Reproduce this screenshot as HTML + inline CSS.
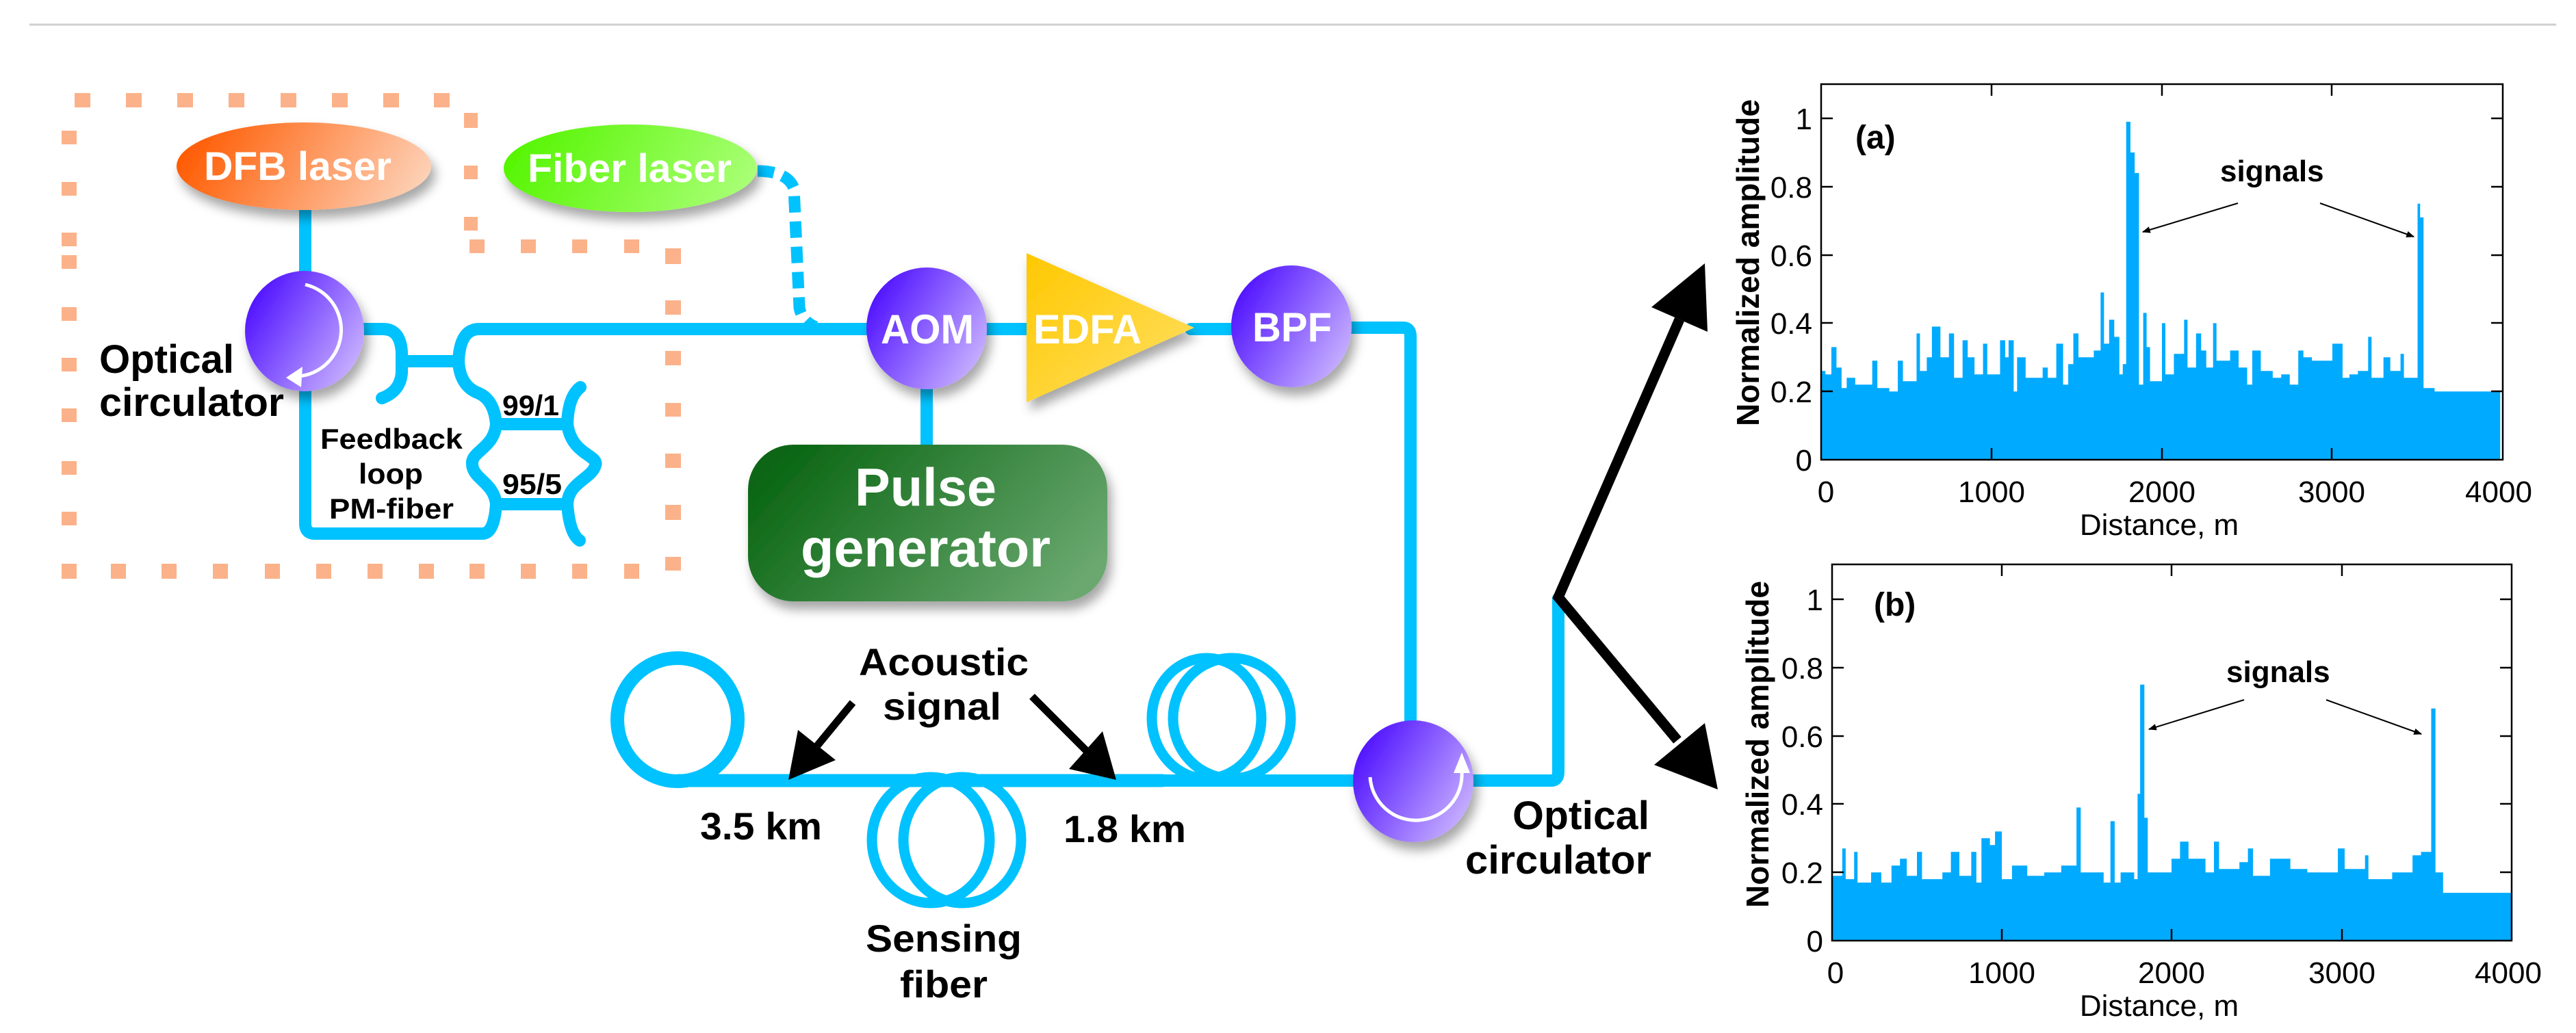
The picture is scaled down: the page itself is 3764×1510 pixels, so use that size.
<!DOCTYPE html>
<html><head><meta charset="utf-8"><style>
html,body{margin:0;padding:0;background:#fff;}
svg{display:block;}
.d{font-family:"Liberation Sans Narrow","Liberation Sans",sans-serif;font-weight:bold;}
.c{font-family:"Liberation Sans",sans-serif;}
</style></head><body>
<svg width="3764" height="1510" viewBox="0 0 3764 1510" xmlns="http://www.w3.org/2000/svg">
<defs>
<linearGradient id="pu" x1="0" y1="0.2" x2="1" y2="0.8"><stop offset="0" stop-color="#4a0aff"/><stop offset="1" stop-color="#cdb8ff"/></linearGradient>
<linearGradient id="dfb" x1="0" y1="0.4" x2="1" y2="0.6"><stop offset="0" stop-color="#ff5a00"/><stop offset="1" stop-color="#fdd2b8"/></linearGradient>
<linearGradient id="fl" x1="0" y1="0.4" x2="1" y2="0.6"><stop offset="0" stop-color="#55f500"/><stop offset="1" stop-color="#aaff77"/></linearGradient>
<linearGradient id="ed" x1="0" y1="0" x2="1" y2="1"><stop offset="0" stop-color="#ffc800"/><stop offset="1" stop-color="#ffe066"/></linearGradient>
<linearGradient id="pg" x1="0" y1="0.3" x2="1" y2="0.7"><stop offset="0" stop-color="#0a6612"/><stop offset="1" stop-color="#6aa870"/></linearGradient>
<filter id="sh" x="-20%" y="-20%" width="150%" height="150%"><feDropShadow dx="6" dy="12" stdDeviation="8" flood-color="#000" flood-opacity="0.35"/></filter>
<marker id="ah" viewBox="0 0 10 10" refX="9" refY="5" markerWidth="6" markerHeight="6" orient="auto"><path d="M0,1 L10,5 L0,9 Z" fill="#000"/></marker>
</defs>

<line x1="43" y1="36" x2="3735" y2="36" stroke="#cfcfcf" stroke-width="3"/>

<g fill="#fbb28a">
<rect x="109" y="136" width="23" height="21"/><rect x="184" y="136" width="23" height="21"/><rect x="259" y="136" width="23" height="21"/><rect x="334" y="136" width="23" height="21"/><rect x="410" y="136" width="23" height="21"/><rect x="485" y="136" width="23" height="21"/><rect x="560" y="136" width="23" height="21"/><rect x="634" y="136" width="23" height="21"/>
<rect x="90" y="191" width="22" height="20"/><rect x="90" y="266" width="22" height="20"/><rect x="90" y="340" width="22" height="20"/><rect x="90" y="373" width="22" height="20"/><rect x="90" y="449" width="22" height="20"/><rect x="90" y="523" width="22" height="20"/><rect x="90" y="597" width="22" height="20"/><rect x="90" y="674" width="22" height="20"/><rect x="90" y="748" width="22" height="20"/>
<rect x="90" y="824" width="22" height="22"/><rect x="162" y="824" width="22" height="22"/><rect x="236" y="824" width="22" height="22"/><rect x="311" y="824" width="22" height="22"/><rect x="387" y="824" width="22" height="22"/><rect x="462" y="824" width="22" height="22"/><rect x="537" y="824" width="22" height="22"/><rect x="612" y="824" width="22" height="22"/><rect x="686" y="824" width="22" height="22"/><rect x="761" y="824" width="22" height="22"/><rect x="836" y="824" width="22" height="22"/><rect x="912" y="824" width="22" height="22"/>
<rect x="972" y="814" width="23" height="20"/><rect x="972" y="738" width="23" height="22"/><rect x="972" y="663" width="23" height="21"/><rect x="972" y="589" width="23" height="20"/><rect x="972" y="513" width="23" height="21"/><rect x="972" y="439" width="23" height="21"/><rect x="972" y="363" width="23" height="23"/>
<rect x="686" y="350" width="22" height="20"/><rect x="761" y="350" width="22" height="20"/><rect x="836" y="350" width="22" height="20"/><rect x="912" y="350" width="22" height="20"/>
<rect x="678" y="165" width="20" height="22"/><rect x="678" y="242" width="20" height="20"/><rect x="678" y="317" width="20" height="20"/>
</g>

<g fill="none" stroke="#00c2ff" stroke-width="18" stroke-linecap="round" stroke-linejoin="round">
<line x1="446" y1="300" x2="446" y2="400"/>
<path d="M530,481 H560 Q585,481 587,515 V545 Q585,572 558,582"/>
<path d="M587,528 H670"/>
<path d="M670,528 Q672,481 700,481 H1270"/>
<path d="M670,528 Q672,565 700,575 Q722,585 725,620"/>
<path d="M725,620 H829"/>
<path d="M829,620 Q830,580 848,566"/>
<path d="M829,620 C835,665 875,665 870,680 C865,700 830,705 829,737"/>
<path d="M725,620 C722,655 688,660 690,678 C690,700 722,705 725,737"/>
<path d="M725,737 H829"/>
<path d="M829,737 Q832,780 847,790"/>
<path d="M725,737 Q722,780 705,780 H460 Q446,780 446,765 V560"/>
<path d="M1107,250 Q1150,250 1160,275 L1168,450 Q1172,470 1192,478" stroke-dasharray="24 13" stroke-linecap="butt" stroke-width="17"/>
<path d="M1440,481 H1500"/>
<path d="M1740,481 H1800"/>
<path d="M1970,479 H2050 Q2061,479 2061,492 V1060"/>
<line x1="1354" y1="560" x2="1354" y2="655"/>
<path d="M990,1141 H2000"/>
<path d="M2140,1141 H2266 Q2277,1141 2277,1128 V875"/>
</g>
<g fill="none" stroke="#00c2ff" stroke-width="20">
<ellipse cx="990" cy="1052" rx="88" ry="90"/>
</g>
<g fill="none" stroke="#00c2ff" stroke-width="15">
<ellipse cx="1763" cy="1050" rx="80" ry="88"/>
<ellipse cx="1800" cy="1050" rx="86" ry="88"/>
<ellipse cx="1360" cy="1228" rx="86" ry="92"/>
<ellipse cx="1406" cy="1228" rx="86" ry="92"/>
</g>
<line x1="990" y1="1141" x2="1700" y2="1141" stroke="#00c2ff" stroke-width="19"/>

<ellipse cx="444" cy="243" rx="186" ry="64" fill="url(#dfb)" filter="url(#sh)"/>
<text class="d" x="298" y="263" font-size="58" fill="#fff" textLength="274" lengthAdjust="spacingAndGlyphs">DFB laser</text>
<ellipse cx="921" cy="246" rx="185" ry="64" fill="url(#fl)" filter="url(#sh)"/>
<text class="d" x="771" y="266" font-size="58" fill="#fff" textLength="298" lengthAdjust="spacingAndGlyphs">Fiber laser</text>

<ellipse cx="445" cy="484" rx="87" ry="88" fill="url(#pu)" filter="url(#sh)"/>
<path d="M446,416 A68,68 0 0 1 436,550" fill="none" stroke="#fff" stroke-width="5"/>
<path d="M418,552 L442,536 L440,566 Z" fill="#fff"/>
<text class="d" x="145" y="545" font-size="58" textLength="197" lengthAdjust="spacingAndGlyphs">Optical</text>
<text class="d" x="145" y="608" font-size="58" textLength="270" lengthAdjust="spacingAndGlyphs">circulator</text>
<text class="d" x="468" y="656" font-size="42" textLength="208" lengthAdjust="spacingAndGlyphs">Feedback</text>
<text class="d" x="524" y="707" font-size="42" textLength="94" lengthAdjust="spacingAndGlyphs">loop</text>
<text class="d" x="481" y="758" font-size="42" textLength="182" lengthAdjust="spacingAndGlyphs">PM-fiber</text>
<text class="d" x="734" y="607" font-size="42" textLength="83" lengthAdjust="spacingAndGlyphs">99/1</text>
<text class="d" x="734" y="722" font-size="42" textLength="87" lengthAdjust="spacingAndGlyphs">95/5</text>

<ellipse cx="1354" cy="480" rx="88" ry="89" fill="url(#pu)" filter="url(#sh)"/>
<text class="d" x="1287" y="502" font-size="60" fill="#fff" textLength="136" lengthAdjust="spacingAndGlyphs">AOM</text>
<polygon points="1500,370 1500,588 1745,479" fill="url(#ed)" filter="url(#sh)"/>
<text class="d" x="1510" y="502" font-size="60" fill="#fff" textLength="158" lengthAdjust="spacingAndGlyphs">EDFA</text>
<ellipse cx="1887" cy="477" rx="88" ry="89" fill="url(#pu)" filter="url(#sh)"/>
<text class="d" x="1830" y="499" font-size="60" fill="#fff" textLength="116" lengthAdjust="spacingAndGlyphs">BPF</text>

<rect x="1093" y="650" width="525" height="229" rx="66" fill="url(#pg)" filter="url(#sh)"/>
<text class="d" x="1249" y="739" font-size="78" fill="#fff" textLength="207" lengthAdjust="spacingAndGlyphs">Pulse</text>
<text class="d" x="1170" y="828" font-size="78" fill="#fff" textLength="365" lengthAdjust="spacingAndGlyphs">generator</text>

<ellipse cx="2065" cy="1142" rx="88" ry="89" fill="url(#pu)" filter="url(#sh)"/>
<path d="M2002,1136 A67,67 0 0 0 2136,1128" fill="none" stroke="#fff" stroke-width="5"/>
<path d="M2136,1100 L2124,1130 L2148,1130 Z" fill="#fff"/>
<text class="d" x="2210" y="1212" font-size="58" textLength="200" lengthAdjust="spacingAndGlyphs">Optical</text>
<text class="d" x="2141" y="1277" font-size="58" textLength="272" lengthAdjust="spacingAndGlyphs">circulator</text>

<text class="d" x="1255" y="987" font-size="56" textLength="248" lengthAdjust="spacingAndGlyphs">Acoustic</text>
<text class="d" x="1290" y="1052" font-size="56" textLength="173" lengthAdjust="spacingAndGlyphs">signal</text>
<line x1="1246" y1="1027" x2="1190" y2="1095" stroke="#000" stroke-width="11"/>
<polygon points="1152,1140 1166,1067 1221,1111" fill="#000"/>
<line x1="1508" y1="1018" x2="1590" y2="1100" stroke="#000" stroke-width="11"/>
<polygon points="1631,1140 1611,1069 1562,1124" fill="#000"/>
<text class="d" x="1023" y="1227" font-size="56" textLength="178" lengthAdjust="spacingAndGlyphs">3.5 km</text>
<text class="d" x="1554" y="1231" font-size="56" textLength="179" lengthAdjust="spacingAndGlyphs">1.8 km</text>
<text class="d" x="1265" y="1391" font-size="56" textLength="228" lengthAdjust="spacingAndGlyphs">Sensing</text>
<text class="d" x="1315" y="1458" font-size="56" textLength="128" lengthAdjust="spacingAndGlyphs">fiber</text>

<polyline points="2454,467 2277,873 2451,1082" fill="none" stroke="#000" stroke-width="15" stroke-linejoin="miter"/>
<polygon points="2491,385 2495,485 2413,449" fill="#000"/>
<polygon points="2510,1154 2491,1057 2417,1118" fill="#000"/>

<g transform="translate(2661,672) scale(0.249,-499)"><path fill="#00aaff" d="M0,0 V0.26 H25 V0.25 H60 V0.33 H90 V0.27 H120 V0.21 H150 V0.24 H200 V0.22 H300 V0.29 H330 V0.21 H400 V0.2 H450 V0.29 H480 V0.23 H560 V0.37 H580 V0.26 H620 V0.3 H650 V0.39 H700 V0.3 H750 V0.37 H780 V0.24 H830 V0.35 H860 V0.3 H900 V0.25 H950 V0.34 H975 V0.25 H1050 V0.35 H1080 V0.3 H1100 V0.35 H1130 V0.2 H1150 V0.3 H1200 V0.24 H1300 V0.27 H1330 V0.24 H1380 V0.34 H1420 V0.22 H1450 V0.28 H1480 V0.37 H1510 V0.3 H1600 V0.32 H1640 V0.49 H1660 V0.34 H1690 V0.41 H1720 V0.36 H1750 V0.25 H1770 V0.28 H1790 V0.99 H1815 V0.9 H1840 V0.84 H1865 V0.22 H1890 V0.43 H1910 V0.33 H1930 V0.23 H2000 V0.4 H2020 V0.25 H2070 V0.31 H2130 V0.41 H2150 V0.27 H2200 V0.37 H2230 V0.32 H2260 V0.27 H2300 V0.4 H2320 V0.29 H2400 V0.32 H2450 V0.27 H2500 V0.22 H2530 V0.32 H2580 V0.26 H2650 V0.24 H2700 V0.25 H2750 V0.22 H2800 V0.32 H2830 V0.3 H2880 V0.29 H3000 V0.34 H3060 V0.24 H3100 V0.25 H3150 V0.26 H3210 V0.36 H3230 V0.24 H3300 V0.3 H3340 V0.26 H3400 V0.31 H3420 V0.24 H3500 V0.75 H3515 V0.71 H3535 V0.21 H3600 V0.2 H3985 V0 Z"/></g>
<g stroke="#000" stroke-width="2.5" fill="none">
<rect x="2661" y="123" width="996" height="549"/>
<path d="M2661,572 h17 M2661,472 h17 M2661,373 h17 M2661,273 h17 M2661,173 h17 M3657,572 h-17 M3657,472 h-17 M3657,373 h-17 M3657,273 h-17 M3657,173 h-17 M2910,672 v-17 M3159,672 v-17 M3407,672 v-17 M2910,123 v17 M3159,123 v17 M3407,123 v17"/>
</g>
<g class="c" font-size="44" text-anchor="end">
<text x="2648" y="688">0</text><text x="2648" y="588">0.2</text><text x="2648" y="488">0.4</text><text x="2648" y="389">0.6</text><text x="2648" y="289">0.8</text><text x="2648" y="189">1</text>
</g>
<g class="c" font-size="44" text-anchor="middle">
<text x="2668" y="734">0</text><text x="2910" y="734">1000</text><text x="3159" y="734">2000</text><text x="3407" y="734">3000</text><text x="3651" y="734">4000</text>
<text x="3155" y="782">Distance, m</text>
<text x="3155" y="1485">Distance, m</text>
<text x="2682" y="1437">0</text><text x="2925" y="1437">1000</text><text x="3173" y="1437">2000</text><text x="3422" y="1437">3000</text><text x="3665" y="1437">4000</text>
</g>
<text class="c" font-weight="bold" font-size="46" text-anchor="middle" transform="translate(2570,384) rotate(-90)">Normalized amplitude</text>
<text class="c" font-weight="bold" font-size="48" x="2711" y="217">(a)</text>
<text class="c" font-weight="bold" font-size="44" x="3244" y="265">signals</text>
<line x1="3270" y1="297" x2="3131" y2="339" stroke="#000" stroke-width="2" marker-end="url(#ah)"/>
<line x1="3390" y1="297" x2="3527" y2="346" stroke="#000" stroke-width="2" marker-end="url(#ah)"/>

<g transform="translate(2677,1375) scale(0.248,-499)"><path fill="#00aaff" d="M0,0 V0.19 H60 V0.27 H80 V0.18 H130 V0.26 H150 V0.17 H230 V0.2 H290 V0.17 H350 V0.22 H400 V0.24 H440 V0.19 H500 V0.26 H530 V0.18 H650 V0.2 H700 V0.26 H750 V0.19 H820 V0.26 H850 V0.17 H880 V0.3 H930 V0.28 H960 V0.32 H1000 V0.18 H1060 V0.22 H1150 V0.19 H1250 V0.2 H1350 V0.22 H1440 V0.39 H1465 V0.2 H1600 V0.17 H1640 V0.35 H1665 V0.17 H1700 V0.2 H1780 V0.18 H1800 V0.43 H1815 V0.75 H1840 V0.36 H1860 V0.2 H2000 V0.24 H2050 V0.29 H2100 V0.24 H2200 V0.2 H2250 V0.29 H2280 V0.21 H2400 V0.23 H2450 V0.27 H2480 V0.19 H2580 V0.24 H2700 V0.21 H2800 V0.2 H2980 V0.27 H3020 V0.21 H3140 V0.25 H3160 V0.18 H3300 V0.2 H3420 V0.25 H3470 V0.26 H3530 V0.68 H3555 V0.2 H3600 V0.14 H4000 V0 Z"/></g>
<g stroke="#000" stroke-width="2.5" fill="none">
<rect x="2677" y="825" width="993" height="550"/>
<path d="M2677,1275 h17 M2677,1175 h17 M2677,1076 h17 M2677,976 h17 M2677,876 h17 M3670,1275 h-17 M3670,1175 h-17 M3670,1076 h-17 M3670,976 h-17 M3670,876 h-17 M2925,1375 v-17 M3173,1375 v-17 M3422,1375 v-17 M2925,825 v17 M3173,825 v17 M3422,825 v17"/>
</g>
<g class="c" font-size="44" text-anchor="end">
<text x="2664" y="1391">0</text><text x="2664" y="1291">0.2</text><text x="2664" y="1191">0.4</text><text x="2664" y="1092">0.6</text><text x="2664" y="992">0.8</text><text x="2664" y="892">1</text>
</g>
<text class="c" font-weight="bold" font-size="46" text-anchor="middle" transform="translate(2584,1088) rotate(-90)">Normalized amplitude</text>
<text class="c" font-weight="bold" font-size="48" x="2738" y="900">(b)</text>
<text class="c" font-weight="bold" font-size="44" x="3253" y="997">signals</text>
<line x1="3279" y1="1023" x2="3140" y2="1066" stroke="#000" stroke-width="2" marker-end="url(#ah)"/>
<line x1="3399" y1="1023" x2="3538" y2="1073" stroke="#000" stroke-width="2" marker-end="url(#ah)"/>
</svg>
</body></html>
